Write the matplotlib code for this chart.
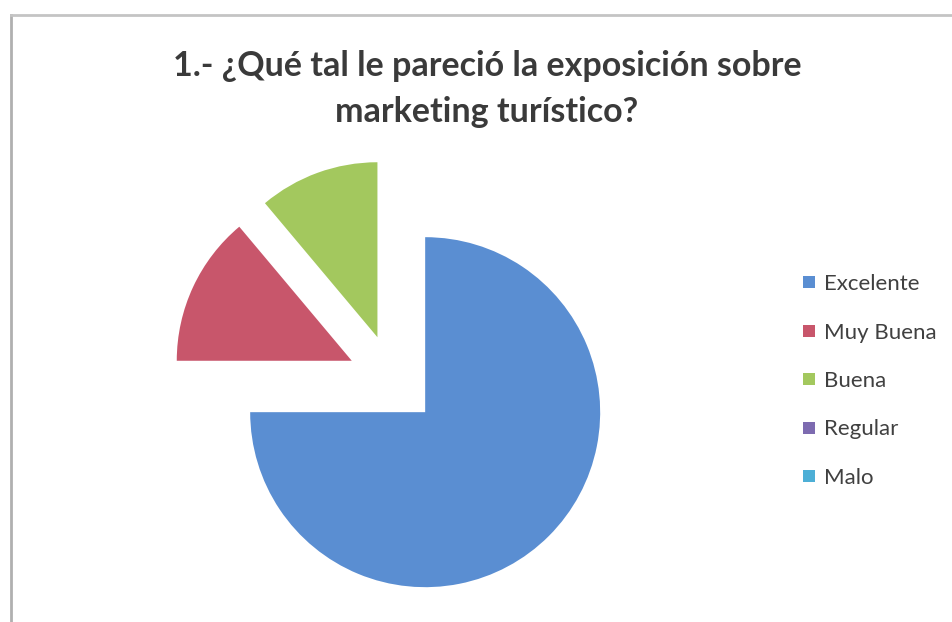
import matplotlib.pyplot as plt
from matplotlib.lines import Line2D

# === DATA ===
categories = ["Excelente", "Muy Buena", "Buena", "Regular", "Malo"]
counts = [27, 5, 4, 0, 0]
colors = ["#5A8ED2", "#C8566B", "#A3C85E", "#7D6BB0", "#4DAFD6"]
explode = [0.26, 0.26, 0.26, 0.0, 0.0]

TITLE = "1.- ¿Qué tal le pareció la exposición sobre\nmarketing turístico?"

W, H = 952, 622
fig = plt.figure(figsize=(W / 100, H / 100), dpi=100)
fig.patch.set_facecolor("white")

# border of the chart area (left + top visible in the scan)
fig.add_artist(Line2D([11 / W, 11 / W], [0, 1 - 15 / H], color="#b0b0b0", lw=2))
fig.add_artist(Line2D([11 / W, 1], [1 - 15 / H, 1 - 15 / H], color="#c4c4c4", lw=2))

# axes placed in pixels, 175 px per data unit, pie centre at (393, 380)
x0, x1, y0, y1 = 150, 640, 140, 610
cx, cy, R = 393, 380, 175
ax = fig.add_axes([x0 / W, 1 - y1 / H, (x1 - x0) / W, (y1 - y0) / H])
wedges, _ = ax.pie(counts, colors=colors, explode=explode, startangle=90,
                   counterclock=False, radius=1.0,
                   wedgeprops=dict(linewidth=0))
ax.set_xlim((x0 - cx) / R, (x1 - cx) / R)
ax.set_ylim((cy - y1) / R, (cy - y0) / R)
ax.set_aspect("auto")
ax.axis("off")

fig.text(487 / W, 1 - 89 / H, TITLE, ha="center", va="center",
         fontsize=24.5, fontweight="bold", family="Lato", color="#3a3a3a",
         linespacing=1.5)

handles = [plt.Line2D([], [], marker="s", linestyle="", markersize=8,
                      markerfacecolor=c, markeredgewidth=0) for c in colors]
leg = fig.legend(handles, categories, loc="center left",
                 bbox_to_anchor=(778 / W, 1 - 381 / H), frameon=False,
                 prop={"family": "Lato", "size": 16}, handletextpad=0.15,
                 handlelength=1.0, labelspacing=1.28, labelcolor="#404040")

fig.savefig("out.png", dpi=100)
